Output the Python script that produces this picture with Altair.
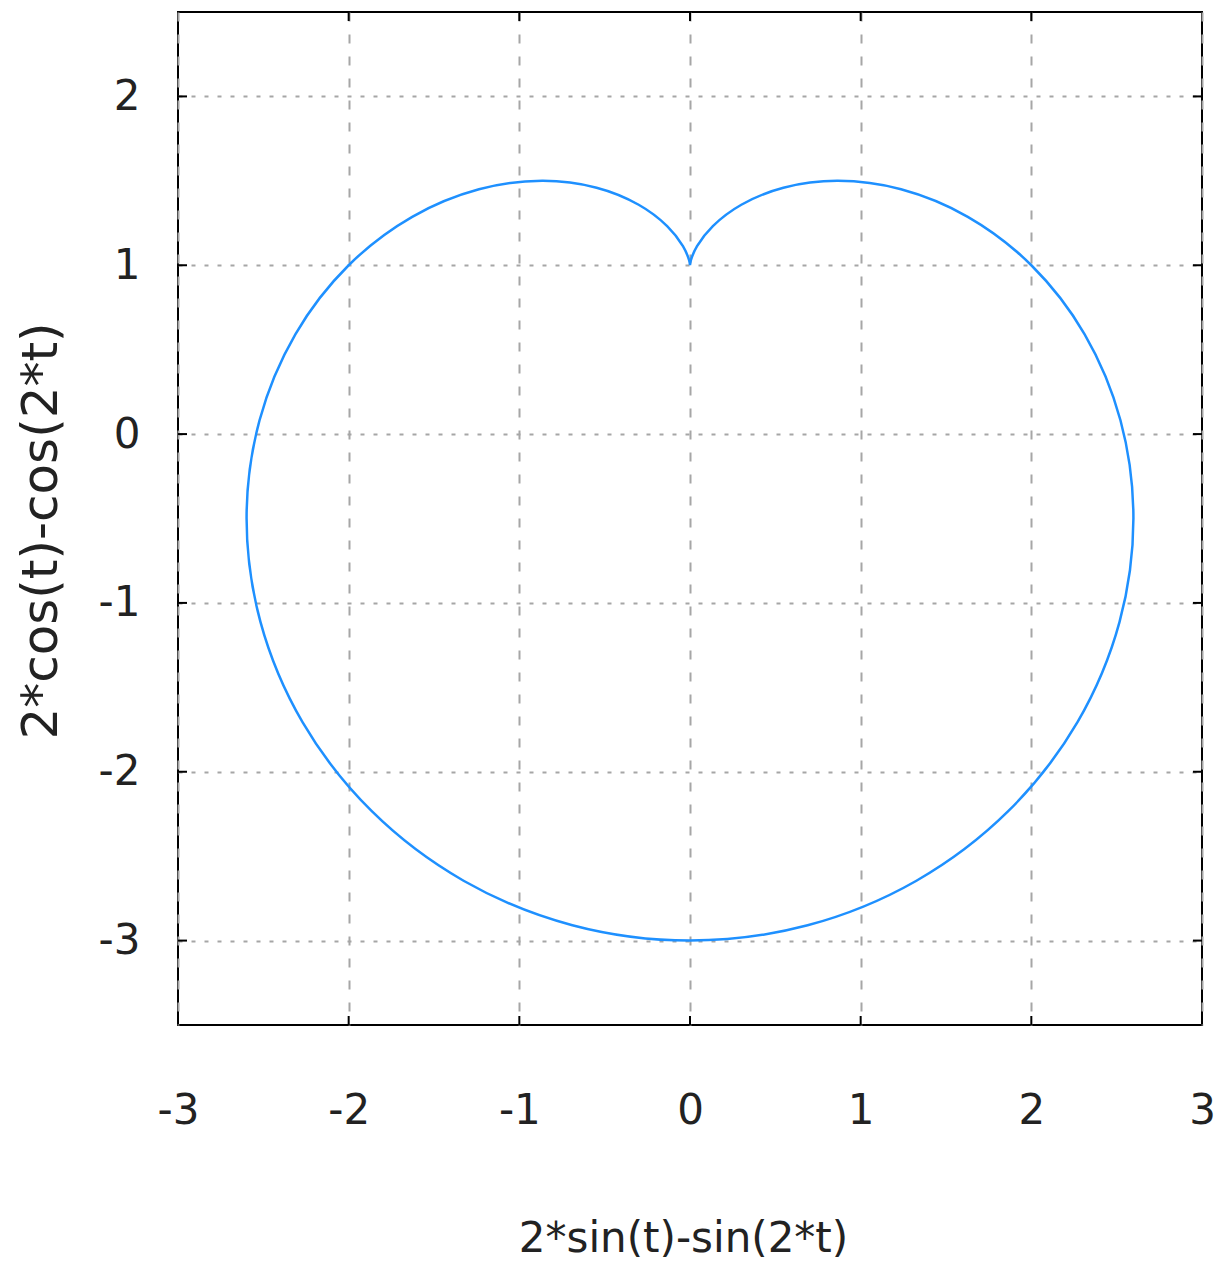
import altair as alt
import pandas as pd

# parametric curve samples (t in degrees)
t_deg = [0, 10, 20, 30, 40, 50, 60, 70, 80, 90, 100, 110, 120, 130, 140, 150, 160, 170, 180,
         190, 200, 210, 220, 230, 240, 250, 260, 270, 280, 290, 300, 310, 320, 330, 340, 350, 360]
x_vals = [0, 0.0053, 0.0413, 0.1340, 0.3008, 0.5473, 0.8660, 1.2366, 1.6276, 2.0, 2.3116, 2.5222,
          2.5981, 2.5169, 2.2704, 1.8660, 1.3268, 0.6893, 0, -0.6893, -1.3268, -1.8660, -2.2704,
          -2.5169, -2.5981, -2.5222, -2.3116, -2.0, -1.6276, -1.2366, -0.8660, -0.5473, -0.3008,
          -0.1340, -0.0413, -0.0053, 0]
y_vals = [1, 1.0299, 1.1133, 1.2321, 1.3584, 1.4592, 1.5, 1.4501, 1.2870, 1.0, 0.5924, 0.0820,
          -0.5, -1.1119, -1.7057, -2.2321, -2.6454, -2.9093, -3.0, -2.9093, -2.6454, -2.2321,
          -1.7057, -1.1119, -0.5, 0.0820, 0.5924, 1.0, 1.2870, 1.4501, 1.5, 1.4592, 1.3584,
          1.2321, 1.1133, 1.0299, 1]

x_ticks = [-3, -2, -1, 0, 1, 2, 3]
y_ticks = [-3, -2, -1, 0, 1, 2]
x_domain = [-3, 3]
y_domain = [-3.5, 2.5]
x_title = "2*sin(t)-sin(2*t)"
y_title = "2*cos(t)-cos(2*t)"

W, H = 1024, 1013
FONT = "DejaVu Sans"

curve = pd.DataFrame({"t": t_deg, "x": x_vals, "y": y_vals})
xt = pd.DataFrame({"x": x_ticks[1:-1]})
yt = pd.DataFrame({"y": y_ticks})

xs = alt.Scale(domain=x_domain, nice=False, zero=False)
ys = alt.Scale(domain=y_domain, nice=False, zero=False)

x_axis = alt.Axis(values=x_ticks, title=x_title, gridDash=[9, 13],
                  titleX=505, titleY=213, labelPadding=85, labelBaseline="middle")
y_axis = alt.Axis(values=y_ticks, title=y_title, gridDash=[4, 9],
                  titleX=-137, titleY=H / 2 + 12, titleFontSize=50, labelPadding=38)

line = alt.Chart(curve).mark_line(
    interpolate="catmull-rom", color="#1E90FF", strokeWidth=2.5
).encode(
    x=alt.X("x:Q", scale=xs, axis=x_axis),
    y=alt.Y("y:Q", scale=ys, axis=y_axis),
    order=alt.Order("t:Q"),
)

tick_kw = dict(color="black", strokeWidth=2)
left_ticks = alt.Chart(yt).mark_rule(**tick_kw).encode(
    y=alt.Y("y:Q", scale=ys, axis=y_axis), x=alt.value(0), x2=alt.value(9))
right_ticks = alt.Chart(yt).mark_rule(**tick_kw).encode(
    y=alt.Y("y:Q", scale=ys, axis=y_axis), x=alt.value(W - 9), x2=alt.value(W))
bottom_ticks = alt.Chart(xt).mark_rule(**tick_kw).encode(
    x=alt.X("x:Q", scale=xs, axis=x_axis), y=alt.value(H - 9), y2=alt.value(H))
top_ticks = alt.Chart(xt).mark_rule(**tick_kw).encode(
    x=alt.X("x:Q", scale=xs, axis=x_axis), y=alt.value(0), y2=alt.value(9))

chart = alt.layer(line, left_ticks, right_ticks, bottom_ticks, top_ticks).properties(
    width=W, height=H,
    autosize=alt.AutoSizeParams(type="none"),
    padding={"left": 170, "top": 4, "right": 14, "bottom": 240},
).configure_view(
    stroke="black", strokeWidth=2
).configure_axis(
    grid=True, gridColor="#a6a6a6", gridWidth=2, ticks=False, domain=False,
    labelFlush=False, labelOverlap=False, labelFont=FONT, labelFontSize=42,
    labelColor="#222", labelExpr="'' + datum.value",
    titleFont=FONT, titleFontSize=42, titleFontWeight="normal", titleColor="#222",
    titleBaseline="middle", titleAlign="center",
)

chart.save("out.html", embed_options={"renderer": "svg", "actions": False})
